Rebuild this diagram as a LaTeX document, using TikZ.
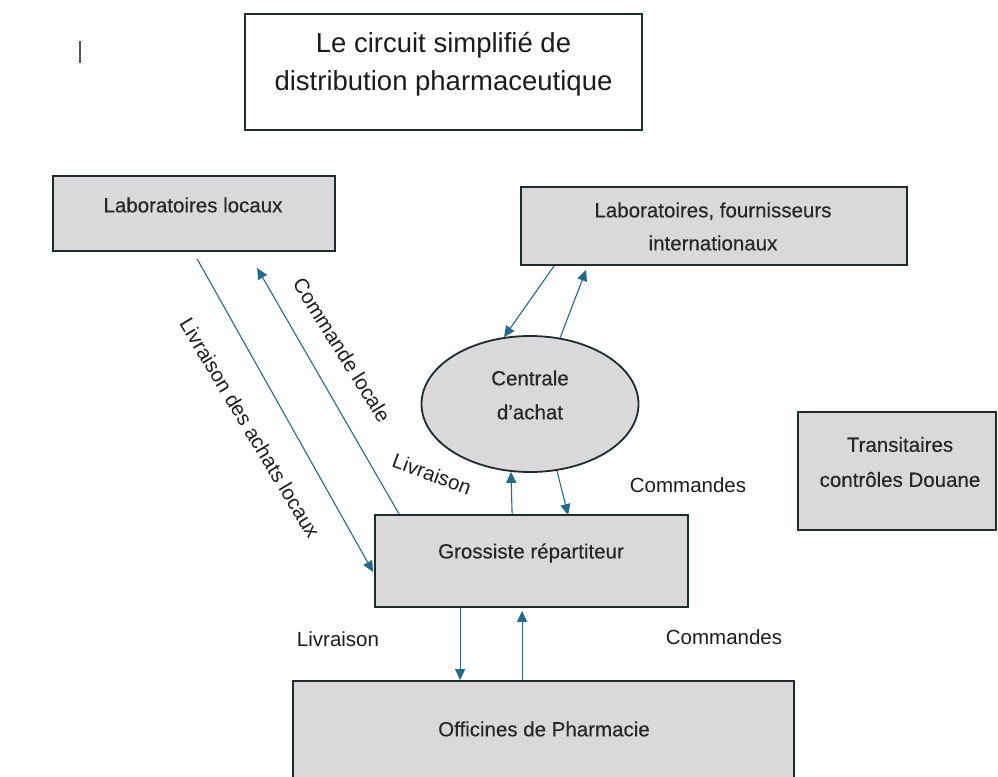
\documentclass[tikz,border=0pt]{standalone}
\usepackage{fontspec}
\setmainfont{Liberation Sans}
\newfontfamily\boxface{Liberation Sans}[FakeBold=0.35]
\usetikzlibrary{arrows.meta,shapes.geometric,calc}
\definecolor{boxfill}{HTML}{D9D9D9}
\definecolor{boxline}{HTML}{1E2B2F}
\definecolor{flow}{HTML}{25698A}
\definecolor{ink}{HTML}{1C1C1C}

\begin{document}
\begin{tikzpicture}[x=1pt,y=-1pt,
  box/.style={draw=boxline, fill=boxfill, line width=1.8pt, inner sep=0pt},
  lbl/.style={font=\fontsize{20.5}{34}\selectfont, text=ink, inner sep=1pt, align=center},
  boxlbl/.style={lbl, font=\boxface\fontsize{20.5}{34}\selectfont, text=ink!95},
  flowarrow/.style={draw=flow, line width=1.1pt, -{Triangle[length=11pt,width=10pt]}},
]
\useasboundingbox (0,0) rectangle (998,776);

% text cursor mark at top left
\coordinate (cur-a) at (80,41);
\coordinate (cur-b) at (80,63);
\draw[line width=1.1pt, draw=ink!75] (cur-a) -- (cur-b);

% title
\node[draw=boxline, fill=white, line width=1.8pt, minimum width=397, minimum height=116] (title) at (443.5,72) {};
\node[lbl, font=\fontsize{27.5}{38}\selectfont] (title-t) at (443.5,64) {Le circuit simplifié de\\distribution pharmaceutique};

% actors
\node[box, minimum width=282, minimum height=75] (labl) at (194,213.5) {};
\node[boxlbl] (labl-t) at (193,205) {Laboratoires locaux};

\node[box, minimum width=386, minimum height=78] (intl) at (714,226) {};
\node[boxlbl, font=\boxface\fontsize{20.5}{33}\selectfont] (intl-t) at (713,226.5) {Laboratoires, fournisseurs\\internationaux};

\node[box, ellipse, minimum width=217, minimum height=136] (cent) at (530,404) {};
\node[boxlbl] (cent-t) at (530,395) {Centrale\\d’achat};

\node[box, minimum width=198, minimum height=118] (trans) at (897,471) {};
\node[boxlbl, font=\boxface\fontsize{20.5}{35}\selectfont] (trans-t) at (900,462) {Transitaires\\contrôles Douane};

\node[box, minimum width=313, minimum height=92] (gros) at (531.5,561) {};
\node[boxlbl] (gros-t) at (531,553) {Grossiste répartiteur};

\node[box, minimum width=501, minimum height=109] (offi) at (543.5,735.5) {};
\node[boxlbl] (offi-t) at (544,729) {Officines de Pharmacie};

% flows between local laboratories and the wholesaler
\draw[flowarrow] ($(labl.south west)+(145,7)$) -- ($(gros.west)+(-1,11)$);
\draw[flowarrow] ($(gros.north west)+(25,0)$) -- ($(labl.south west)+(205,16)$);
\node[lbl, rotate=-59] (l-achats) at (250,428) {Livraison des achats locaux};
\node[lbl, rotate=-58] (l-cmdloc) at (342,350) {Commande locale};

% flows with the purchasing centre
\draw[flowarrow] ($(intl.south west)+(34,0)$) -- ($(cent.north)+(-26,2)$);
\draw[flowarrow] ($(cent.north)+(30,3)$) -- ($(intl.south west)+(66,4)$);
\draw[flowarrow] ($(gros.north west)+(138,0)$) -- ($(cent.south)+(-19,-1)$);
\draw[flowarrow] ($(cent.south)+(27,-2)$) -- ($(gros.north west)+(194,1)$);
\node[lbl, rotate=-20] (l-livr1) at (432,474) {Livraison};
\node[lbl] (l-cmd1) at (688,485) {Commandes};

% flows with the pharmacies
\draw[flowarrow] ($(gros.south west)+(86,0)$) -- ($(offi.north west)+(168,0)$);
\draw[flowarrow] ($(offi.north west)+(230,0)$) -- ($(gros.south west)+(148,3)$);
\node[lbl] (l-livr2) at (338,639) {Livraison};
\node[lbl] (l-cmd2) at (724,637) {Commandes};
\end{tikzpicture}
\end{document}
